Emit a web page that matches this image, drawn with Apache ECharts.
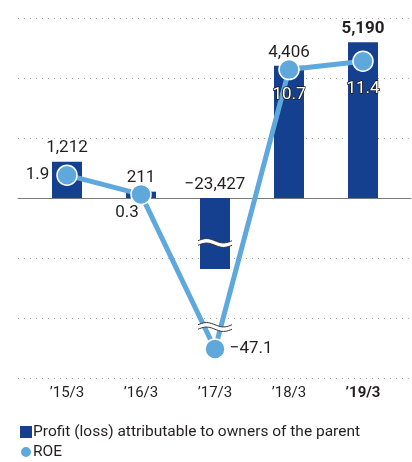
<!DOCTYPE html>
<html><head><meta charset="utf-8">
<script src="https://cdn.jsdelivr.net/npm/echarts@6/dist/echarts.min.js"></script>
<style>html,body{margin:0;padding:0;background:#fff}#c{width:412px;height:462px}</style>
</head><body><div id="c"></div>
<script>
const categories = ["\u201915/3", "\u201916/3", "\u201917/3", "\u201918/3", "\u201919/3"];
const profit = [1212, 211, -23427, 4406, 5190];
const roe = [1.9, 0.3, -47.1, 10.7, 11.4];
const profitAxis = { min: -6000, max: 6000, interval: 2000 };
const roeAxis = { min: -15, max: 15, interval: 5 };
const legendNames = ['Profit (loss) attributable to owners of the parent', 'ROE'];

// broken-axis settings (values below "at" are pulled up by "cut")
const barBreak = { at: -1500, cut: 21060 };
const roeBreak = { at: -10.75, cut: 34.52 };
function squeeze(v, b) { return v < b.at ? v + b.cut : v; }

const textColor = '#231f20';
const barColor = '#14408f';
const lineColor = '#5fa8dc';
const font = 'Roboto';

function fmtProfit(v) { const s = Math.abs(v).toLocaleString('en-US'); return v < 0 ? '\u2212' + s : s; }
function fmtRoe(v) { const s = Math.abs(v).toFixed(1); return v < 0 ? '\u2212' + s : s; }

const roeLabelStyles = [
  { position: 'left', distance: 7 },
  { position: 'bottom', distance: 0, offset: [-14, -1] },
  { position: 'right', distance: 4 },
  { position: 'bottom', distance: 6, color: '#fff', textBorderColor: '#1a1a1a', textBorderWidth: 1.5 },
  { position: 'bottom', distance: 8, color: '#fff', textBorderColor: '#1a1a1a', textBorderWidth: 1.5 }
];

function waveItem(params, api) {
  const p = api.coord([api.value(0), api.value(1)]);
  const w = 34, amp = 2.2, gapH = 4.5, n = 20;
  const top = [], bot = [];
  for (let i = 0; i <= n; i++) {
    const t = i / n;
    const x = p[0] - w / 2 + t * w;
    const y = p[1] - amp * Math.sin(2 * Math.PI * t);
    top.push([x, y - gapH / 2]);
    bot.push([x, y + gapH / 2]);
  }
  return {
    type: 'group',
    children: [
      { type: 'polygon', shape: { points: top.concat(bot.slice().reverse()) }, style: { fill: '#fff' } },
      { type: 'polyline', shape: { points: top }, style: { stroke: '#333', lineWidth: 1, fill: null } },
      { type: 'polyline', shape: { points: bot }, style: { stroke: '#333', lineWidth: 1, fill: null } }
    ]
  };
}

const chart = echarts.init(document.getElementById('c'), null, { renderer: 'canvas' });
chart.setOption({
  animation: false,
  backgroundColor: '#fff',
  grid: [
    { left: 30, right: 12, top: 18, bottom: 84 },
    { left: 18, right: 1, top: 18, bottom: 84 }
  ],
  legend: {
    orient: 'vertical', left: 19, top: 424, height: 60, padding: 0, itemWidth: 12, itemHeight: 12, itemGap: 4,
    textStyle: { fontSize: 15.5, lineHeight: 12, color: textColor, fontFamily: font, padding: [0, 0, 0, -4] },
    data: [{ name: legendNames[0], icon: 'rect' }, { name: legendNames[1], icon: 'circle' }]
  },
  xAxis: [
    {
      type: 'category', gridIndex: 0, data: categories,
      axisLine: { show: false }, axisTick: { show: false }, splitLine: { show: false },
      axisLabel: {
        margin: 8, fontSize: 15, color: textColor, fontFamily: font,
        formatter: (v, i) => i === categories.length - 1 ? '{b|' + v + '}' : v,
        rich: { b: { fontWeight: 'bold', fontSize: 15, color: textColor, fontFamily: font } }
      }
    },
    {
      type: 'value', gridIndex: 1, min: 0, max: 1,
      axisLine: { show: true, onZero: true, lineStyle: { color: '#7a7a7a', width: 1 } },
      axisTick: { show: false }, axisLabel: { show: false }, splitLine: { show: false }
    }
  ],
  yAxis: [
    { type: 'value', gridIndex: 0, min: profitAxis.min, max: profitAxis.max, interval: profitAxis.interval, show: false, splitLine: { show: false } },
    { type: 'value', gridIndex: 0, min: roeAxis.min, max: roeAxis.max, interval: roeAxis.interval, show: false, splitLine: { show: false } },
    {
      type: 'value', gridIndex: 1, min: profitAxis.min, max: profitAxis.max, interval: profitAxis.interval,
      axisLine: { show: false }, axisTick: { show: false }, axisLabel: { show: false },
      splitLine: { show: true, lineStyle: { color: '#a8a8a8', width: 1, type: [1, 5] } }
    }
  ],
  series: [
    {
      type: 'bar', name: legendNames[0], xAxisIndex: 0, yAxisIndex: 0, barWidth: 30,
      itemStyle: { color: barColor },
      data: profit.map((v, i) => ({ value: squeeze(v, barBreak), label: i === profit.length - 1 ? { fontWeight: 'bold' } : {} })),
      label: { show: true, position: 'top', distance: 5, fontSize: 17, color: textColor, fontFamily: font, formatter: p => fmtProfit(profit[p.dataIndex]) },
      z: 2
    },
    {
      type: 'line', name: legendNames[1], xAxisIndex: 0, yAxisIndex: 1,
      data: roe.map((v, i) => ({ value: squeeze(v, roeBreak), label: roeLabelStyles[i] })),
      symbol: 'circle', symbolSize: 20,
      lineStyle: { color: lineColor, width: 5 },
      itemStyle: { color: lineColor, borderColor: '#fff', borderWidth: 1.5 },
      label: { show: true, fontSize: 17, color: textColor, fontFamily: font, formatter: p => fmtRoe(roe[p.dataIndex]) },
      z: 4
    },
    {
      type: 'custom', xAxisIndex: 0, yAxisIndex: 0, renderItem: waveItem, silent: true, z: 3,
      data: [[2, barBreak.at]]
    },
    {
      type: 'custom', xAxisIndex: 0, yAxisIndex: 1, renderItem: waveItem, silent: true, z: 5,
      data: [[2, roeBreak.at]]
    }
  ]
});
</script></body></html>
